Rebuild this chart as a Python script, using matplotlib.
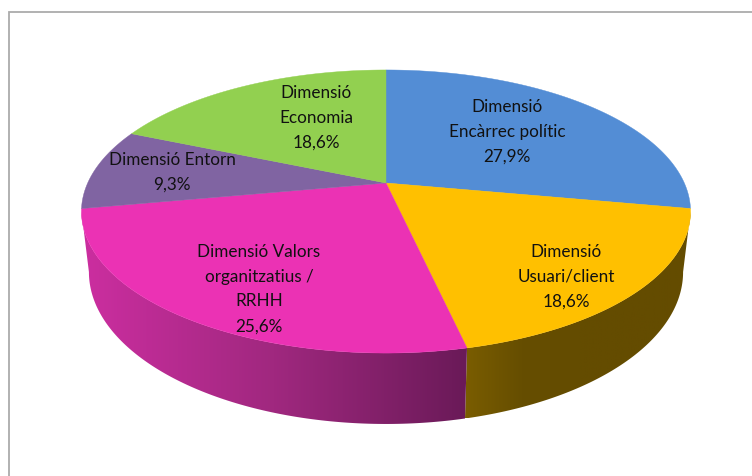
import numpy as np
import matplotlib
matplotlib.use("Agg")
import matplotlib.pyplot as plt
from matplotlib.colors import LinearSegmentedColormap
from matplotlib.patches import Polygon

plt.rcParams["font.family"] = ["Lato", "DejaVu Sans"]

labels = [
    "Dimensió\nEncàrrec polític",
    "Dimensió\nUsuari/client",
    "Dimensió Valors\norganitzatius /\nRRHH",
    "Dimensió Entorn",
    "Dimensió\nEconomia",
]
values = [27.9, 18.6, 25.6, 9.3, 18.6]
colors = ["#538DD5", "#FFC000", "#EB32B4", "#8064A2", "#92D050"]
side_colors = [
    ["#2F5488", "#2F5488"],
    ["#7A5D00", "#664E00", "#644C00", "#644C00", "#644C00"],
    ["#CC2EA0", "#A0287F", "#6A1A58"],
    ["#4F3E66", "#4F3E66"],
    ["#5B8232", "#5B8232"],
]
label_xy = [(507, 132), (566, 277), (259, 289), (172, 172), (316, 118)]

P = 0.2014


def project(theta, cx, cy, rx, ky):
    # circle seen in perspective, theta clockwise from the far side
    x = np.sin(theta)
    y = np.cos(theta)
    d = 1 + P * y
    return cx + rx * x / d, cy - ky * y / d


def top_rim(theta):
    return project(theta, 386, 184, 298.3, 135.8)


def bottom_rim(theta):
    return project(theta, 386, 242.4, 291.0, 145.8)


fig = plt.figure(figsize=(7.52, 4.77), dpi=100)
ax = fig.add_axes([0, 0, 1, 1])
ax.set_xlim(0, 752)
ax.set_ylim(477, 0)
ax.axis("off")

ax.plot([8.7, 8.7, 752], [477, 12.5, 12.5], color="#ABABAB", lw=1.3, solid_joinstyle="miter")

edges = np.radians(np.cumsum([0] + values) / sum(values) * 360)
limit_a = np.arccos(-P)
limit_b = 2 * np.pi - limit_a

# side wall first, only the part facing the viewer
for i in range(len(values)):
    a = max(edges[i], limit_a)
    b = min(edges[i + 1], limit_b)
    if b <= a:
        continue
    t = np.linspace(a, b, 120)
    tx, ty = top_rim(t)
    bx, by = bottom_rim(t[::-1])
    pts = np.column_stack([np.r_[tx, bx], np.r_[ty, by]])
    poly = Polygon(pts, closed=True, fc="none", ec="none")
    ax.add_patch(poly)
    x0, x1 = pts[:, 0].min(), pts[:, 0].max()
    y0, y1 = pts[:, 1].min(), pts[:, 1].max()
    cmap = LinearSegmentedColormap.from_list("side%d" % i, side_colors[i])
    grad = np.linspace(0, 1, 256).reshape(1, -1)
    im = ax.imshow(grad, cmap=cmap, extent=[x0, x1, y1, y0], aspect="auto", zorder=2)
    im.set_clip_path(poly)

ax.set_xlim(0, 752)
ax.set_ylim(477, 0)

# top face
for i in range(len(values)):
    t = np.linspace(edges[i], edges[i + 1], 200)
    x, y = top_rim(t)
    pts = np.column_stack([np.r_[386, x], np.r_[184, y]])
    ax.add_patch(Polygon(pts, closed=True, fc=colors[i], ec=colors[i], lw=0.3, zorder=3))

for lab, val, (lx, ly) in zip(labels, values, label_xy):
    txt = lab + "\n" + ("%.1f%%" % val).replace(".", ",")
    ax.text(lx, ly, txt, ha="center", va="center", fontsize=12.3, color="#111111",
            linespacing=1.69, zorder=5)

fig.savefig("out.png", dpi=100)
